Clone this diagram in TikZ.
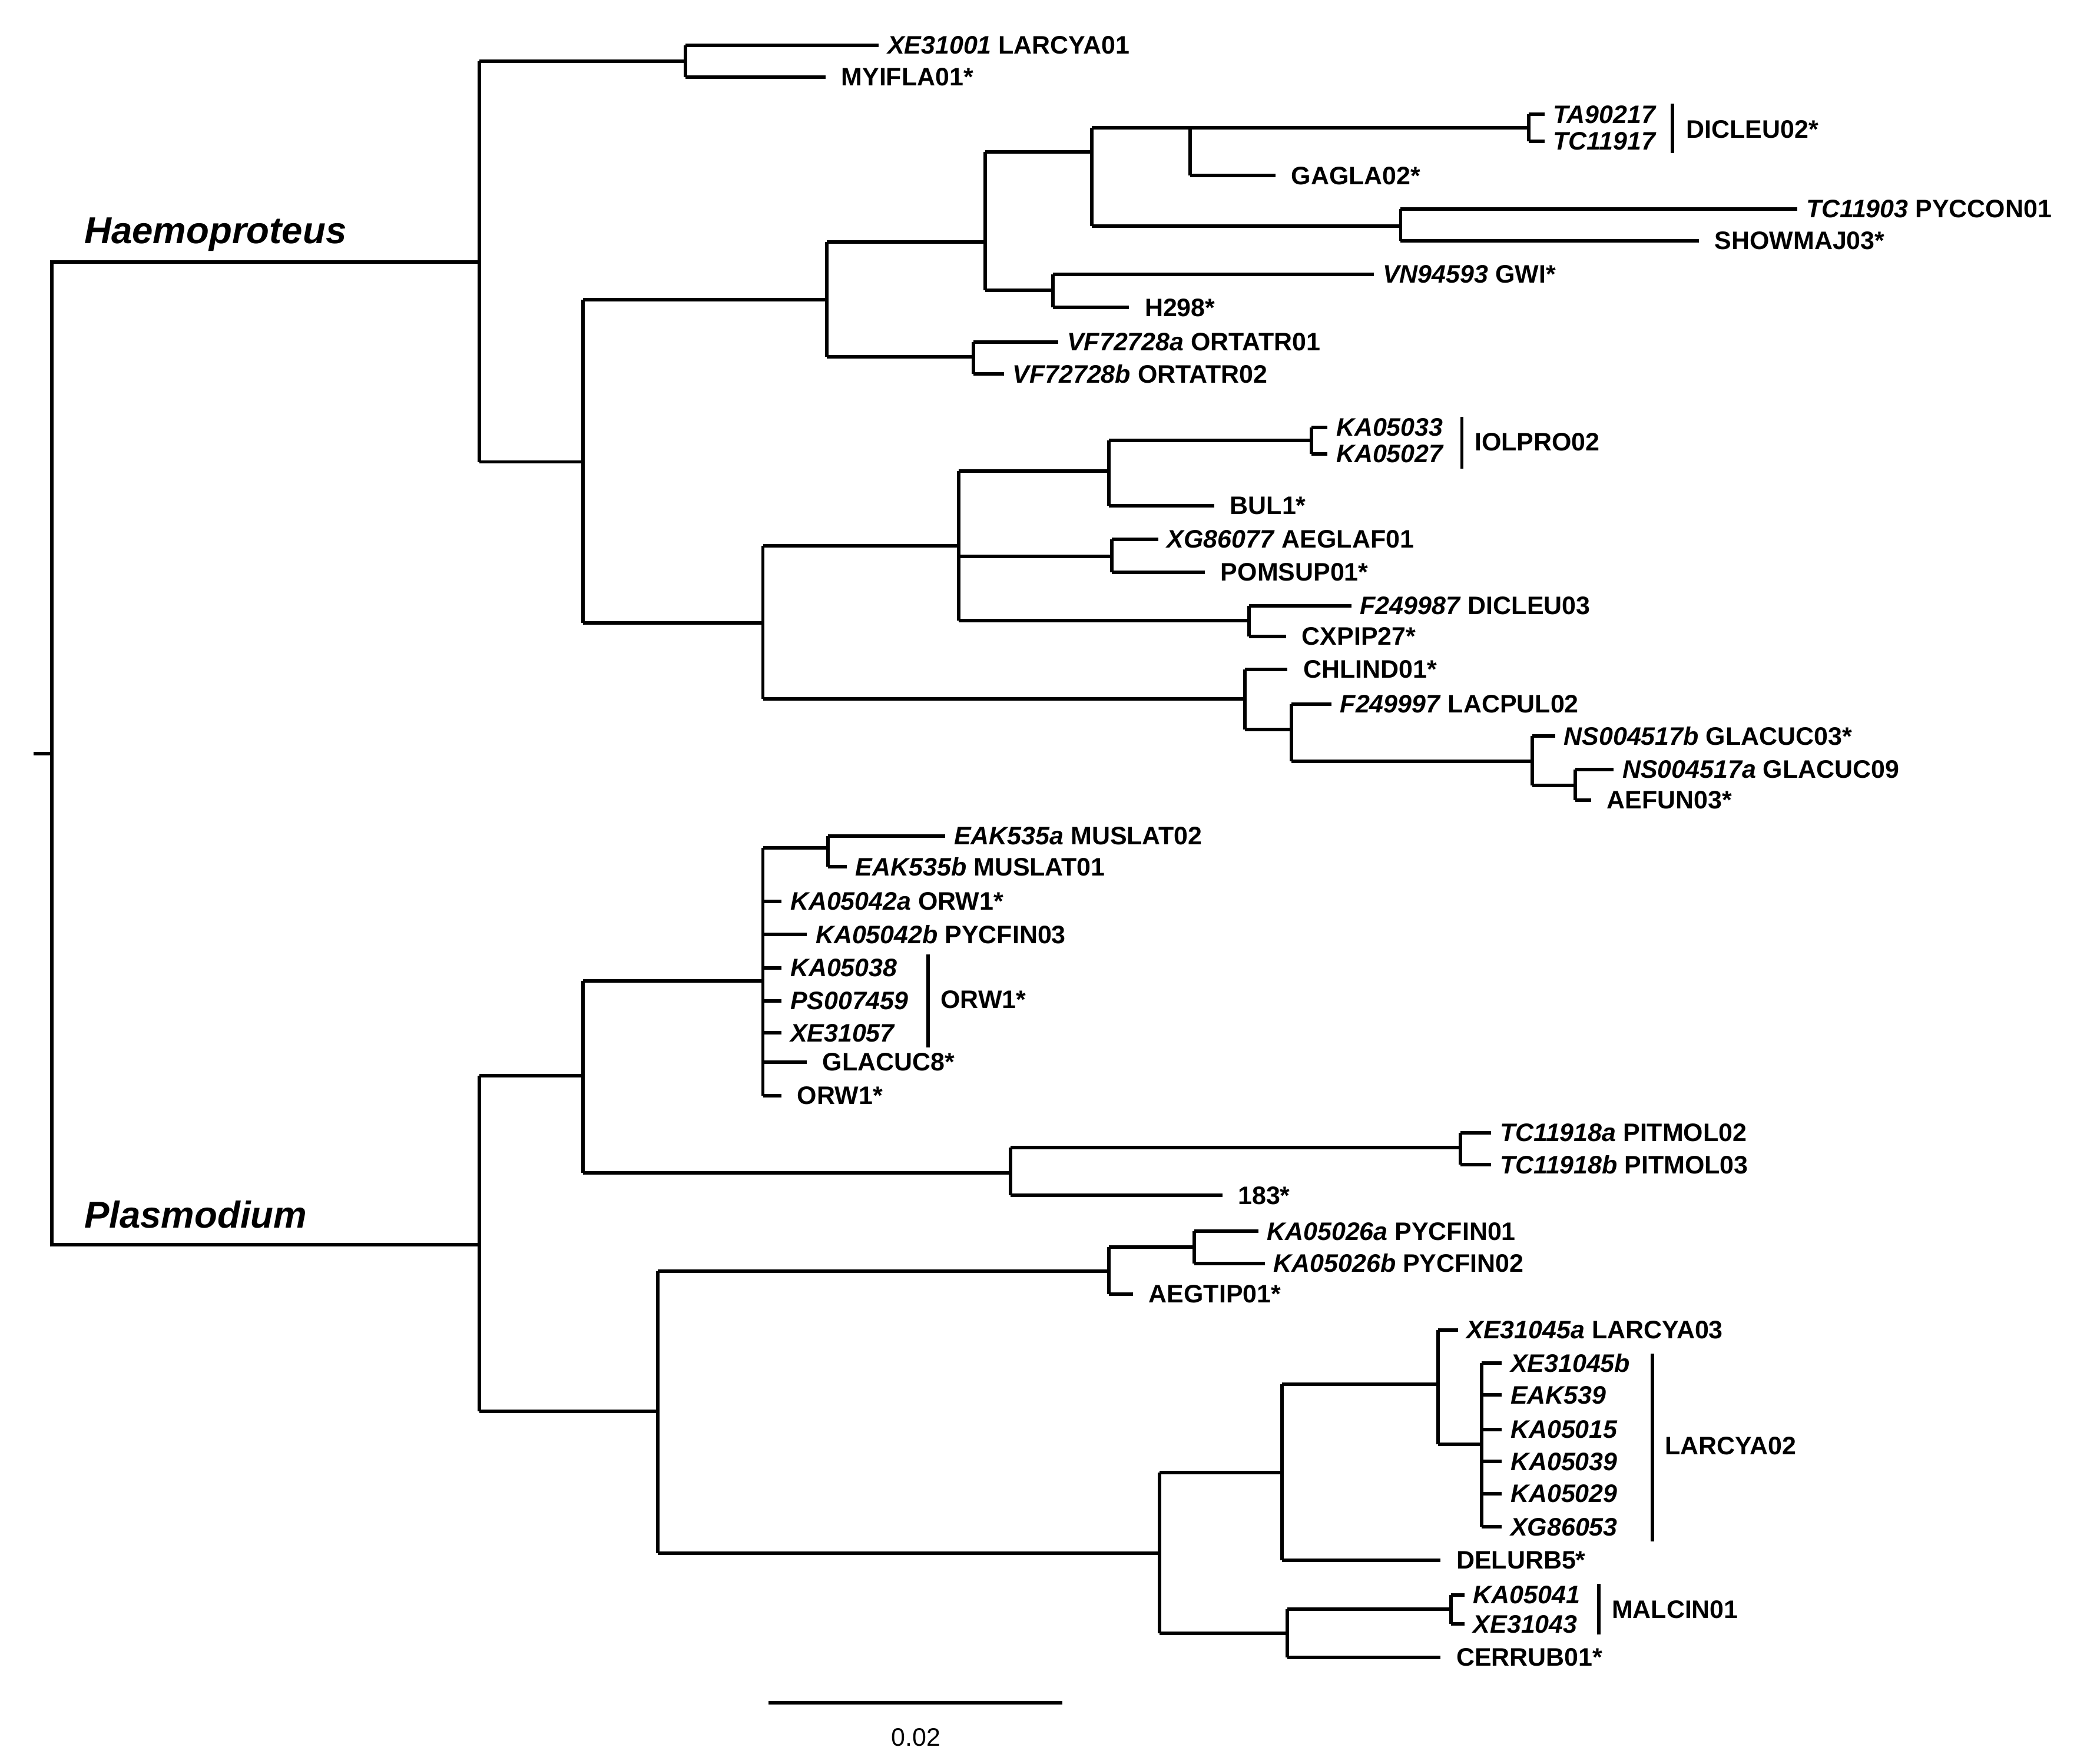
\documentclass[tikz,border=0pt]{standalone}
\usepackage{fontspec}
\setmainfont{Liberation Sans}
\begin{document}
\begin{tikzpicture}[x=0.01cm,y=-0.01cm,line width=0.75pt,
  lab/.style={anchor=west,inner sep=1.5pt,font=\fontsize{5.4}{6}\selectfont\bfseries},
  big/.style={anchor=south west,inner sep=0pt,font=\fontsize{8}{9}\selectfont\bfseries\itshape}]
\useasboundingbox (0,0) rectangle (1560,1325);
\newcommand\lf[5]{\node[lab] (#1) at (#2,#3) {\textit{#4}\ifx&#5&\else\ #5\fi};}
\newcommand\ed[4]{\draw (#1,#2) |- (#3,#4);}
% root
\draw (25,566) -- (39,566);
\draw (360,197) -| (39,935) -- (360,935);
\node[big] (hae) at (62,190) {Haemoproteus};
\node[big] (pla) at (62,924) {Plasmodium};
% Haemoproteus
\draw (360,46) -- (360,347);
\ed{360}{46}{515}{46}
\ed{515}{34}{660}{34} \ed{515}{58}{620}{58}
\draw (515,34)--(515,58);
\lf{a1}{660}{34}{XE31001}{LARCYA01}
\lf{a2}{620}{58}{}{MYIFLA01*}
\ed{360}{347}{438}{347}
\draw (438,225)--(438,468);
\ed{438}{225}{621}{225}
\draw (621,182)--(621,268);
\ed{621}{182}{740}{182}
\draw (740,114)--(740,218);
\ed{740}{114}{820}{114}
\draw (820,96)--(820,170);
\ed{820}{96}{894}{96}
\draw (894,96)--(894,132);
\ed{894}{96}{1148}{96}
\draw (1148,86)--(1148,106);
\ed{1148}{86}{1160}{86} \ed{1148}{106}{1160}{106}
\lf{b1}{1160}{86}{TA90217}{}
\lf{b2}{1160}{106}{TC11917}{}
\draw (1256,78)--(1256,115);
\node[lab] (b3) at (1260,97) {DICLEU02*};
\ed{894}{132}{958}{132}
\lf{b4}{958}{132}{}{GAGLA02*}
\ed{820}{170}{1052}{170}
\draw (1052,157)--(1052,181);
\ed{1052}{157}{1350}{157} \ed{1052}{181}{1276}{181}
\lf{b5}{1350}{157}{TC11903}{PYCCON01}
\lf{b6}{1276}{181}{}{SHOWMAJ03*}
\ed{740}{218}{791}{218}
\draw (791,206)--(791,231);
\ed{791}{206}{1032}{206} \ed{791}{231}{848}{231}
\lf{b7}{1032}{206}{VN94593}{GWI*}
\lf{b8}{848}{231}{}{H298*}
\ed{621}{268}{731}{268}
\draw (731,257)--(731,281);
\ed{731}{257}{795}{257} \ed{731}{281}{754}{281}
\lf{b9}{795}{257}{VF72728a}{ORTATR01}
\lf{b10}{754}{281}{VF72728b}{ORTATR02}
\ed{438}{468}{573}{468}
\draw (573,410)--(573,525);
\ed{573}{410}{720}{410}
\draw (720,354)--(720,466);
\ed{720}{354}{833}{354}
\draw (833,331)--(833,380);
\ed{833}{331}{985}{331}
\draw (985,321)--(985,341);
\ed{985}{321}{997}{321} \ed{985}{341}{997}{341}
\lf{c1}{997}{321}{KA05033}{}
\lf{c2}{997}{341}{KA05027}{}
\draw (1098,313)--(1098,352);
\node[lab] (c3) at (1101,332) {IOLPRO02};
\ed{833}{380}{912}{380}
\lf{c4}{912}{380}{}{BUL1*}
\ed{720}{418}{835}{418}
\draw (835,405)--(835,430);
\ed{835}{405}{870}{405} \ed{835}{430}{905}{430}
\lf{c5}{870}{405}{XG86077}{AEGLAF01}
\lf{c6}{905}{430}{}{POMSUP01*}
\ed{720}{466}{938}{466}
\draw (938,455)--(938,478);
\ed{938}{455}{1015}{455} \ed{938}{478}{966}{478}
\lf{c7}{1015}{455}{F249987}{DICLEU03}
\lf{c8}{966}{478}{}{CXPIP27*}
\ed{573}{525}{935}{525}
\draw (935,503)--(935,548);
\ed{935}{503}{967}{503}
\lf{c9}{967}{503}{}{CHLIND01*}
\ed{935}{548}{970}{548}
\draw (970,529)--(970,572);
\ed{970}{529}{1000}{529}
\lf{c10}{1000}{529}{F249997}{LACPUL02}
\ed{970}{572}{1151}{572}
\draw (1151,553)--(1151,590);
\ed{1151}{553}{1168}{553}
\lf{c11}{1168}{553}{NS004517b}{GLACUC03*}
\ed{1151}{590}{1183}{590}
\draw (1183,578)--(1183,601);
\ed{1183}{578}{1212}{578} \ed{1183}{601}{1195}{601}
\lf{c12}{1212}{578}{NS004517a}{GLACUC09}
\lf{c13}{1195}{601}{}{AEFUN03*}
% Plasmodium
\draw (360,808)--(360,1060);
\ed{360}{808}{438}{808}
\draw (438,737)--(438,881);
\ed{438}{737}{573}{737}
\draw (573,637)--(573,823);
\ed{573}{637}{622}{637}
\draw (622,628)--(622,651);
\ed{622}{628}{710}{628} \ed{622}{651}{636}{651}
\lf{d1}{710}{628}{EAK535a}{MUSLAT02}
\lf{d2}{636}{651}{EAK535b}{MUSLAT01}
\ed{573}{677}{587}{677} \lf{d3}{587}{677}{KA05042a}{ORW1*}
\ed{573}{702}{606}{702} \lf{d4}{606}{702}{KA05042b}{PYCFIN03}
\ed{573}{727}{587}{727} \lf{d5}{587}{727}{KA05038}{}
\ed{573}{752}{587}{752} \lf{d6}{587}{752}{PS007459}{}
\ed{573}{776}{587}{776} \lf{d7}{587}{776}{XE31057}{}
\draw (697,717)--(697,787);
\node[lab] (d8) at (700,751) {ORW1*};
\ed{573}{798}{606}{798} \lf{d9}{606}{798}{}{GLACUC8*}
\ed{573}{823}{587}{823} \lf{d10}{587}{823}{}{ORW1*}
\ed{438}{881}{759}{881}
\draw (759,862)--(759,898);
\ed{759}{862}{1097}{862}
\draw (1097,851)--(1097,875);
\ed{1097}{851}{1120}{851} \ed{1097}{875}{1120}{875}
\lf{e1}{1120}{851}{TC11918a}{PITMOL02}
\lf{e2}{1120}{875}{TC11918b}{PITMOL03}
\ed{759}{898}{918}{898}
\lf{e3}{918}{898}{}{183*}
\ed{360}{1060}{494}{1060}
\draw (494,955)--(494,1167);
\ed{494}{955}{833}{955}
\draw (833,937)--(833,972);
\ed{833}{937}{897}{937}
\draw (897,925)--(897,949);
\ed{897}{925}{945}{925} \ed{897}{949}{950}{949}
\lf{f1}{945}{925}{KA05026a}{PYCFIN01}
\lf{f2}{950}{949}{KA05026b}{PYCFIN02}
\ed{833}{972}{851}{972}
\lf{f3}{851}{972}{}{AEGTIP01*}
\ed{494}{1167}{871}{1167}
\draw (871,1106)--(871,1227);
\ed{871}{1106}{963}{1106}
\draw (963,1040)--(963,1172);
\ed{963}{1040}{1080}{1040}
\draw (1080,999)--(1080,1085);
\ed{1080}{999}{1095}{999}
\lf{g1}{1095}{999}{XE31045a}{LARCYA03}
\ed{1080}{1085}{1113}{1085}
\draw (1113,1024)--(1113,1147);
\foreach \yy/\t in {1024/XE31045b,1048/EAK539,1074/KA05015,1098/KA05039,1122/KA05029,1147/XG86053}{
  \draw (1113,\yy) -- (1128,\yy);
  \node[lab] (g\t) at (1128,\yy) {\textit{\t}};}
\draw (1241,1017)--(1241,1158);
\node[lab] (g2) at (1244,1086) {LARCYA02};
\ed{963}{1172}{1082}{1172}
\lf{g3}{1082}{1172}{}{DELURB5*}
\ed{871}{1227}{967}{1227}
\draw (967,1209)--(967,1245);
\ed{967}{1209}{1090}{1209}
\draw (1090,1198)--(1090,1220);
\ed{1090}{1198}{1100}{1198} \ed{1090}{1220}{1100}{1220}
\lf{h1}{1100}{1198}{KA05041}{}
\lf{h2}{1100}{1220}{XE31043}{}
\draw (1201,1190)--(1201,1228);
\node[lab] (h3) at (1204,1209) {MALCIN01};
\ed{967}{1245}{1082}{1245}
\lf{h4}{1082}{1245}{}{CERRUB01*}
% scale bar
\draw (577,1279) -- (798,1279);
\node[font=\fontsize{5.4}{6}\selectfont] (sc) at (688,1305) {0.02};
\end{tikzpicture}
\end{document}
